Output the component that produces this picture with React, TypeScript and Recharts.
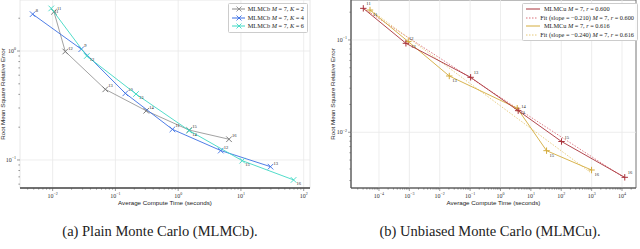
import React from "react";
import {
  ScatterChart,
  Scatter,
  XAxis,
  YAxis,
  ReferenceLine,
  ReferenceArea,
} from "recharts";

// ---- (a) plain Monte Carlo ----
const levelsA = ["11", "12", "13", "14", "15", "16"];
const levelsBlue = ["8", "9", "10", "11", "12", "13"];
const grayTime = [0.0105, 0.0159, 0.069, 0.31, 1.5, 6.46];
const grayErr = [2.29, 0.99, 0.445, 0.283, 0.188, 0.155];
const blueTime = [0.0048, 0.0286, 0.144, 0.81, 4.77, 29.6];
const blueErr = [2.18, 1.04, 0.409, 0.191, 0.122, 0.0868];
const cyanTime = [0.0095, 0.035, 0.213, 1.5, 10.5, 69];
const cyanErr = [2.46, 0.9, 0.403, 0.186, 0.0985, 0.0656];
const majorXA = [0.01, 0.1, 1, 10, 100];
const majorYA = [0.1, 1];

// ---- (b) unbiased Monte Carlo ----
const levelsB = ["11", "12", "13", "14", "15", "16"];
const redTime = [3.05e-5, 7.7e-4, 0.104, 3.82, 102, 12300];
const redErr = [0.22, 0.092, 0.0394, 0.01714, 0.00794, 0.00325];
const goldTime = [5.06e-5, 9.2e-4, 0.0206, 3.55, 32.8, 993];
const goldErr = [0.211, 0.096, 0.0407, 0.0182, 0.00632, 0.0039];
const redFitTime = [3.05e-5, 12300];
const redFitErr = [0.22, 0.00318];
const goldFitTime = [5.75e-5, 993];
const goldFitErr = [0.207, 0.0036];
const majorXB = [1e-4, 1e-3, 1e-2, 1e-1, 1, 10, 100, 1000, 10000];
const majorYB = [0.01, 0.1];

const SERIF = "'Liberation Serif', 'DejaVu Serif', serif";
const SANS = "'Liberation Sans', 'DejaVu Sans', sans-serif";

const zip = (xs: number[], ys: number[], labs?: string[]) =>
  xs.map((x, i) => ({ x, y: ys[i], lab: labs ? labs[i] : "" }));

const withMinors = (majors: number[], lo: number, hi: number) => {
  const out: number[] = [];
  const first = majors[0] / 10;
  [first, ...majors].forEach((m) => {
    for (let k = 1; k <= 9; k++) {
      const v = m * k;
      if (v >= lo && v <= hi) out.push(v);
    }
  });
  return out;
};

const isMajor = (v: number) => {
  const l = Math.log10(v);
  return Math.abs(l - Math.round(l)) < 1e-6;
};
const expText = (v: number) => {
  const e = Math.round(Math.log10(v));
  return e < 0 ? `\u2212${-e}` : `${e}`;
};

const XTick = (props: any) => {
  const { x, y, payload } = props;
  const major = isMajor(payload.value);
  return (
    <g>
      <line x1={x} x2={x} y1={y} y2={y + (major ? 3 : 1.6)} stroke="#555" strokeWidth={0.6} />
      {major && (
        <text x={x} y={y + 9.5} textAnchor="middle" fontSize={6} fontFamily={SERIF} fill="#333">
          10<tspan dy={-2.6} fontSize={4}>{expText(payload.value)}</tspan>
        </text>
      )}
    </g>
  );
};

const YTick = (props: any) => {
  const { x, y, payload } = props;
  const major = isMajor(payload.value);
  return (
    <g>
      <line x1={x} x2={x - (major ? 3 : 1.6)} y1={y} y2={y} stroke="#555" strokeWidth={0.6} />
      {major && (
        <text x={x - 4} y={y + 2} textAnchor="end" fontSize={6} fontFamily={SERIF} fill="#333">
          10<tspan dy={-2.6} fontSize={4}>{expText(payload.value)}</tspan>
        </text>
      )}
    </g>
  );
};

// marker + level label; dy moves the label above (negative) or below (positive) the point
const crossShape = (color: string, plus: boolean, dy = -2) => (p: any) => {
  const { cx, cy, payload } = p;
  const s = plus ? 3.2 : 2.8;
  return (
    <g>
      {plus ? (
        <path d={`M${cx - s},${cy}H${cx + s}M${cx},${cy - s}V${cy + s}`} stroke={color} strokeWidth={1} />
      ) : (
        <path d={`M${cx - s},${cy - s}L${cx + s},${cy + s}M${cx - s},${cy + s}L${cx + s},${cy - s}`} stroke={color} strokeWidth={0.9} />
      )}
      {payload.lab && (
        <text x={cx + 3} y={cy + dy} fontSize={4.5} fontFamily={SERIF} fill="#222">
          {payload.lab}
        </text>
      )}
    </g>
  );
};

const noShape = () => <g />;

function LegendRow({ color, dash, marker, children }: any) {
  return (
    <div style={{ display: "flex", alignItems: "center", height: 8.5 }}>
      <svg width={16} height={8} style={{ marginRight: 3 }}>
        <line x1={1} x2={15} y1={4} y2={4} stroke={color} strokeWidth={1} strokeDasharray={dash} />
        {marker === "x" && <path d="M5.5,1.5L10.5,6.5M5.5,6.5L10.5,1.5" stroke={color} strokeWidth={0.9} />}
        {marker === "+" && <path d="M5,4H11M8,1V7" stroke={color} strokeWidth={0.9} />}
      </svg>
      <span>{children}</span>
    </div>
  );
}

const legendBox: React.CSSProperties = {
  position: "absolute",
  background: "rgba(255,255,255,0.95)",
  border: "0.6px solid #ccc",
  borderRadius: 1.5,
  fontFamily: SERIF,
  fontSize: 6.3,
  color: "#222",
  padding: "1px 3px 1px 2px",
  lineHeight: 1,
  whiteSpace: "nowrap",
};

const I = ({ children }: any) => <i>{children}</i>;

export default function App() {
  const xDomA: [number, number] = [0.00302, 126];
  const yDomA: [number, number] = [0.0553, 2.94];
  const xDomB: [number, number] = [1.2e-5, 28840];
  const yDomB: [number, number] = [0.00249, 0.271];

  return (
    <div style={{ position: "absolute", left: 0, top: 0, width: 640, height: 249, background: "#fff" }}>
      <div style={{ position: "absolute", left: 0, top: 0 }}>
        <ScatterChart width={320} height={215} margin={{ top: 0, right: 10, bottom: 0, left: 0 }}>
          <XAxis
            type="number"
            dataKey="x"
            scale="log"
            domain={xDomA}
            allowDataOverflow
            ticks={withMinors(majorXA, xDomA[0], xDomA[1])}
            interval={0}
            tick={<XTick />}
            tickSize={0}
            tickMargin={0}
            height={27}
            axisLine={{ stroke: "#444", strokeWidth: 1.3 }}
            label={{ value: "Average Compute Time (seconds)", position: "insideBottom", offset: 10, fontSize: 6.2, fontFamily: SANS, fill: "#222" }}
          />
          <YAxis
            type="number"
            dataKey="y"
            scale="log"
            domain={yDomA}
            allowDataOverflow
            ticks={withMinors(majorYA, yDomA[0], yDomA[1])}
            interval={0}
            tick={<YTick />}
            tickSize={0}
            tickMargin={0}
            width={20}
            axisLine={false}
            label={{ value: "Root Mean Square Relative Error", angle: -90, position: "insideLeft", offset: 3, fontSize: 6.2, fontFamily: SANS, fill: "#222", style: { textAnchor: "middle" } }}
          />
          <ReferenceArea x1={xDomA[0]} x2={xDomA[1]} y1={yDomA[0]} y2={yDomA[1]} fill="none" stroke="#e2e2e2" strokeWidth={0.8} />
          {majorXA.map((v) => (
            <ReferenceLine key={"gx" + v} x={v} stroke="#e8e8e8" strokeWidth={0.8} />
          ))}
          {majorYA.map((v) => (
            <ReferenceLine key={"gy" + v} y={v} stroke="#e8e8e8" strokeWidth={0.8} />
          ))}
          <Scatter data={zip(grayTime, grayErr, levelsA)} line={{ stroke: "#8a8a8a", strokeWidth: 0.8 }} lineType="joint" shape={crossShape("#6f6f6f", false, -2)} isAnimationActive={false} />
          <Scatter data={zip(blueTime, blueErr, levelsBlue)} line={{ stroke: "#3b6fe3", strokeWidth: 0.9 }} lineType="joint" shape={crossShape("#3b6fe3", false, -2)} isAnimationActive={false} />
          <Scatter data={zip(cyanTime, cyanErr, levelsA)} line={{ stroke: "#3fd8c4", strokeWidth: 0.9 }} lineType="joint" shape={crossShape("#3fd8c4", false, 5)} isAnimationActive={false} />
        </ScatterChart>
      </div>

      <div style={{ position: "absolute", left: 320, top: 0 }}>
        <ScatterChart width={320} height={215} margin={{ top: 0, right: 4, bottom: 0, left: 0 }}>
          <XAxis
            type="number"
            dataKey="x"
            scale="log"
            domain={xDomB}
            allowDataOverflow
            ticks={withMinors(majorXB, xDomB[0], xDomB[1])}
            interval={0}
            tick={<XTick />}
            tickSize={0}
            tickMargin={0}
            height={27}
            axisLine={{ stroke: "#555", strokeWidth: 1 }}
            label={{ value: "Average Compute Time (seconds)", position: "insideBottom", offset: 10, fontSize: 6.2, fontFamily: SANS, fill: "#222" }}
          />
          <YAxis
            type="number"
            dataKey="y"
            scale="log"
            domain={yDomB}
            allowDataOverflow
            ticks={withMinors(majorYB, yDomB[0], yDomB[1])}
            interval={0}
            tick={<YTick />}
            tickSize={0}
            tickMargin={0}
            width={31}
            axisLine={{ stroke: "#555", strokeWidth: 1 }}
            label={{ value: "Root Mean Square Relative Error", angle: -90, position: "insideLeft", offset: 13, fontSize: 6.2, fontFamily: SANS, fill: "#222", style: { textAnchor: "middle" } }}
          />
          <ReferenceArea x1={xDomB[0]} x2={xDomB[1]} y1={yDomB[0]} y2={yDomB[1]} fill="none" stroke="#666" strokeWidth={0.9} />
          {majorXB.map((v) => (
            <ReferenceLine key={"gx" + v} x={v} stroke="#e8e8e8" strokeWidth={0.8} />
          ))}
          {majorYB.map((v) => (
            <ReferenceLine key={"gy" + v} y={v} stroke="#e8e8e8" strokeWidth={0.8} />
          ))}
          <Scatter data={zip(redFitTime, redFitErr)} line={{ stroke: "#d9707a", strokeWidth: 0.9, strokeDasharray: "1.5 1.5" }} lineType="joint" shape={noShape} isAnimationActive={false} />
          <Scatter data={zip(goldFitTime, goldFitErr)} line={{ stroke: "#e6c878", strokeWidth: 0.9, strokeDasharray: "1.5 1.5" }} lineType="joint" shape={noShape} isAnimationActive={false} />
          <Scatter data={zip(goldTime, goldErr, levelsB)} line={{ stroke: "#d4ac3c", strokeWidth: 0.9 }} lineType="joint" shape={crossShape("#d4ac3c", true, 6)} isAnimationActive={false} />
          <Scatter data={zip(redTime, redErr, levelsB)} line={{ stroke: "#a8323a", strokeWidth: 0.9 }} lineType="joint" shape={crossShape("#a8323a", true, -3)} isAnimationActive={false} />
        </ScatterChart>
      </div>

      <div style={{ ...legendBox, left: 228, top: 3, width: 73 }}>
        <LegendRow color="#8a8a8a" marker="x">MLMCb <I>M</I> = 7, <I>K</I> = 2</LegendRow>
        <LegendRow color="#3b6fe3" marker="x">MLMCb <I>M</I> = 7, <I>K</I> = 4</LegendRow>
        <LegendRow color="#3fd8c4" marker="x">MLMCb <I>M</I> = 7, <I>K</I> = 6</LegendRow>
      </div>

      <div style={{ ...legendBox, left: 522, top: 3, width: 109 }}>
        <LegendRow color="#a8323a">MLMCu <I>M</I> = 7, <I>r</I> = 0.600</LegendRow>
        <LegendRow color="#d9707a" dash="1.5 1.5">Fit (slope = −0.210) <I>M</I> = 7, <I>r</I> = 0.600</LegendRow>
        <LegendRow color="#d4ac3c">MLMCu <I>M</I> = 7, <I>r</I> = 0.616</LegendRow>
        <LegendRow color="#e6c878" dash="1.5 1.5">Fit (slope = −0.240) <I>M</I> = 7, <I>r</I> = 0.616</LegendRow>
      </div>

      <div style={{ position: "absolute", left: 0, width: 320, top: 223, textAlign: "center", fontFamily: SERIF, fontSize: 14.5, color: "#222" }}>
        (a) Plain Monte Carlo (MLMCb).
      </div>
      <div style={{ position: "absolute", left: 330, width: 320, top: 223, textAlign: "center", fontFamily: SERIF, fontSize: 14.5, color: "#222" }}>
        (b) Unbiased Monte Carlo (MLMCu).
      </div>
    </div>
  );
}
